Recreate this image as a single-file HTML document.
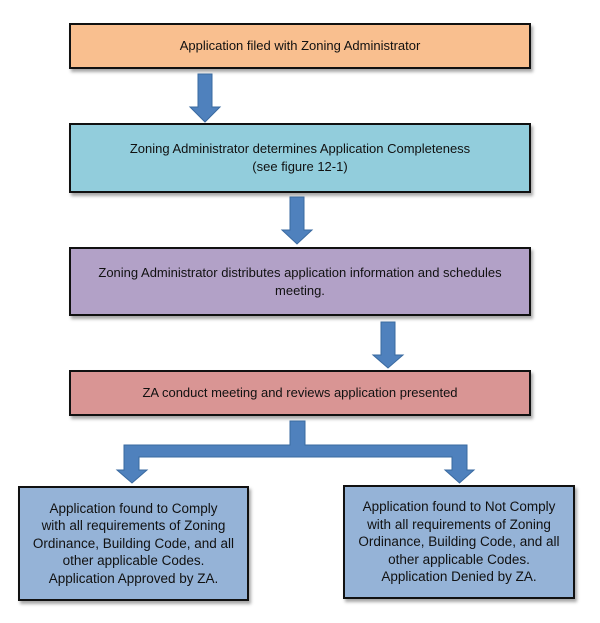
<!DOCTYPE html>
<html><head><style>
body{margin:0;width:600px;height:623px;background:#fff;position:relative;font-family:"Liberation Sans",sans-serif;overflow:hidden}
.b{position:absolute;box-sizing:border-box;border:2px solid #111;box-shadow:2px 3px 3px rgba(0,0,0,.35);display:flex;align-items:center;justify-content:center;text-align:center;font-size:13px;line-height:18px;color:#111}
</style></head><body>
<div class="b" style="left:69px;top:23px;width:462px;height:46px;background:#f9bf8f">Application filed with Zoning Administrator</div>
<div class="b" style="left:69px;top:123px;width:462px;height:70px;background:#92cddc">Zoning Administrator determines Application Completeness<br>(see figure 12-1)</div>
<div class="b" style="left:69px;top:247px;width:462px;height:69px;background:#b2a1c7">Zoning Administrator distributes application information and schedules<br>meeting.</div>
<div class="b" style="left:69px;top:370px;width:462px;height:46px;background:#d99594">ZA conduct meeting and reviews application presented</div>
<div class="b" style="left:18px;top:486px;width:231px;height:115px;background:#95b3d7;font-size:13.5px;line-height:17.5px">Application found to Comply<br>with all requirements of Zoning<br>Ordinance, Building Code, and all<br>other applicable Codes.<br>Application Approved by ZA.</div>
<div class="b" style="left:343px;top:485px;width:232px;height:114px;background:#95b3d7;font-size:13.5px;line-height:17.5px">Application found to Not Comply<br>with all requirements of Zoning<br>Ordinance, Building Code, and all<br>other applicable Codes.<br>Application Denied by ZA.</div>
<svg width="600" height="623" style="position:absolute;left:0;top:0" fill="#4f81bd" stroke="#3a6aa0" stroke-width="1">
<polygon points="198,74 212,74 212,107 220,107 205,122 190,107 198,107"/>
<polygon points="290,197 304,197 304,230 312,230 297,244 282,230 290,230"/>
<polygon points="381,322 395,322 395,355 403,355 388,368 373,355 381,355"/>
<polygon points="290,421 305,421 305,445 467,445 467,470 474,470 459.5,483 445,470 452,470 452,457 139,457 139,470 147,470 132,483 117,470 124,470 124,445 290,445"/>
</svg>
</body></html>
